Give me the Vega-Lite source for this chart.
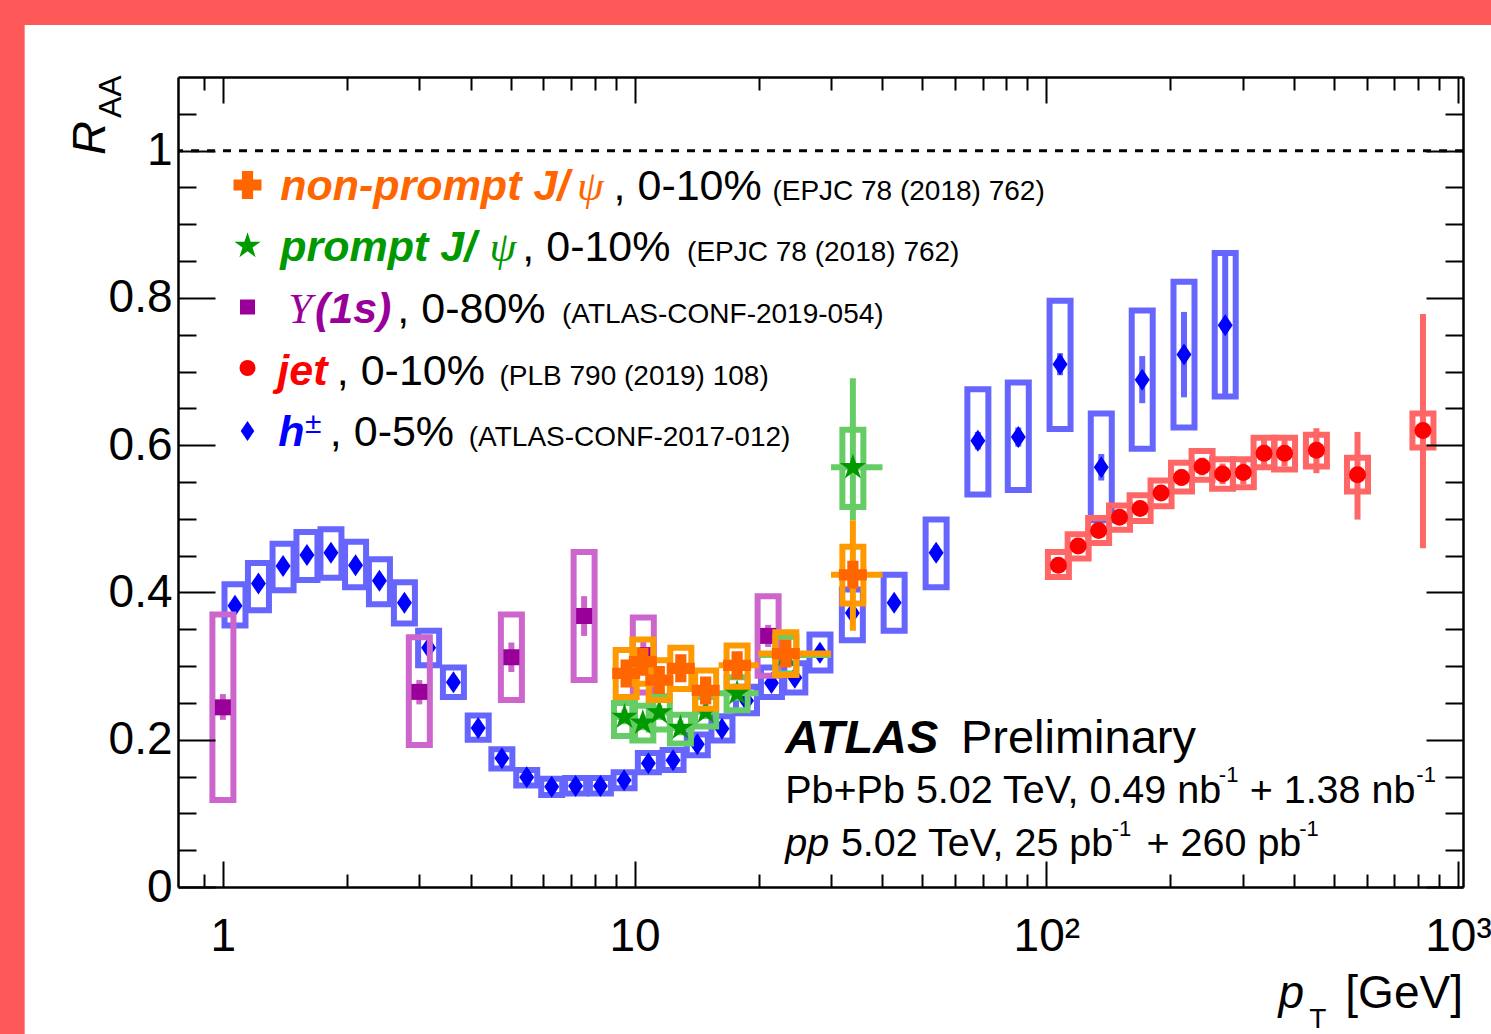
{
"$schema": "https://vega.github.io/schema/vega-lite/v6.json",
"width": 1285, "height": 810,
"autosize": {"type": "none"},
"padding": {"left": 178, "top": 77, "right": 28, "bottom": 147},
"background": "#ff5858",
"config": {"view": {"stroke": null}},
"data": {"values": [{}]},
"datasets": {
"hpm": [
{"pt":1.07,"r":0.382,"slo":0.355,"shi":0.411,"elo":0.378,"ehi":0.386},
{"pt":1.22,"r":0.412,"slo":0.376,"shi":0.440,"elo":0.408,"ehi":0.416},
{"pt":1.40,"r":0.436,"slo":0.403,"shi":0.466,"elo":0.432,"ehi":0.440},
{"pt":1.60,"r":0.451,"slo":0.417,"shi":0.482,"elo":0.447,"ehi":0.455},
{"pt":1.83,"r":0.454,"slo":0.420,"shi":0.486,"elo":0.450,"ehi":0.458},
{"pt":2.10,"r":0.437,"slo":0.407,"shi":0.469,"elo":0.433,"ehi":0.441},
{"pt":2.40,"r":0.416,"slo":0.384,"shi":0.445,"elo":0.412,"ehi":0.420},
{"pt":2.76,"r":0.386,"slo":0.358,"shi":0.414,"elo":0.382,"ehi":0.390},
{"pt":3.16,"r":0.325,"slo":0.301,"shi":0.348,"elo":0.321,"ehi":0.329},
{"pt":3.63,"r":0.278,"slo":0.258,"shi":0.298,"elo":0.274,"ehi":0.282},
{"pt":4.17,"r":0.216,"slo":0.200,"shi":0.233,"elo":0.212,"ehi":0.220},
{"pt":4.76,"r":0.175,"slo":0.161,"shi":0.187,"elo":0.171,"ehi":0.179},
{"pt":5.47,"r":0.149,"slo":0.138,"shi":0.159,"elo":0.145,"ehi":0.153},
{"pt":6.29,"r":0.136,"slo":0.125,"shi":0.147,"elo":0.132,"ehi":0.140},
{"pt":7.19,"r":0.137,"slo":0.127,"shi":0.148,"elo":0.133,"ehi":0.141},
{"pt":8.26,"r":0.137,"slo":0.127,"shi":0.148,"elo":0.133,"ehi":0.141},
{"pt":9.43,"r":0.145,"slo":0.134,"shi":0.156,"elo":0.141,"ehi":0.149},
{"pt":10.8,"r":0.168,"slo":0.156,"shi":0.182,"elo":0.164,"ehi":0.172},
{"pt":12.4,"r":0.172,"slo":0.159,"shi":0.186,"elo":0.168,"ehi":0.176},
{"pt":14.2,"r":0.194,"slo":0.179,"shi":0.207,"elo":0.190,"ehi":0.198},
{"pt":16.3,"r":0.215,"slo":0.199,"shi":0.232,"elo":0.211,"ehi":0.219},
{"pt":18.7,"r":0.253,"slo":0.236,"shi":0.272,"elo":0.248,"ehi":0.258},
{"pt":21.5,"r":0.277,"slo":0.258,"shi":0.298,"elo":0.272,"ehi":0.282},
{"pt":24.5,"r":0.284,"slo":0.264,"shi":0.304,"elo":0.279,"ehi":0.289},
{"pt":28.2,"r":0.318,"slo":0.294,"shi":0.343,"elo":0.312,"ehi":0.324},
{"pt":33.8,"r":0.372,"slo":0.335,"shi":0.404,"elo":0.365,"ehi":0.379},
{"pt":42.7,"r":0.386,"slo":0.348,"shi":0.424,"elo":0.378,"ehi":0.394},
{"pt":54.0,"r":0.454,"slo":0.407,"shi":0.499,"elo":0.444,"ehi":0.464},
{"pt":68.2,"r":0.606,"slo":0.533,"shi":0.676,"elo":0.594,"ehi":0.618},
{"pt":85.5,"r":0.611,"slo":0.539,"shi":0.685,"elo":0.598,"ehi":0.624},
{"pt":108,"r":0.710,"slo":0.622,"shi":0.796,"elo":0.695,"ehi":0.725},
{"pt":136,"r":0.570,"slo":0.498,"shi":0.643,"elo":0.552,"ehi":0.588},
{"pt":171,"r":0.689,"slo":0.595,"shi":0.783,"elo":0.657,"ehi":0.721},
{"pt":216,"r":0.723,"slo":0.624,"shi":0.822,"elo":0.665,"ehi":0.781},
{"pt":272,"r":0.763,"slo":0.666,"shi":0.861,"elo":0.668,"ehi":0.858}
],
"jet": [
{"pt":107,"r":0.437,"slo":0.421,"shi":0.455,"elo":0.429,"ehi":0.445},
{"pt":119.5,"r":0.463,"slo":0.446,"shi":0.479,"elo":0.455,"ehi":0.471},
{"pt":134,"r":0.484,"slo":0.467,"shi":0.501,"elo":0.476,"ehi":0.492},
{"pt":150.6,"r":0.502,"slo":0.485,"shi":0.518,"elo":0.494,"ehi":0.510},
{"pt":169,"r":0.514,"slo":0.497,"shi":0.532,"elo":0.505,"ehi":0.523},
{"pt":190,"r":0.535,"slo":0.517,"shi":0.552,"elo":0.525,"ehi":0.545},
{"pt":213,"r":0.556,"slo":0.537,"shi":0.576,"elo":0.545,"ehi":0.567},
{"pt":239,"r":0.571,"slo":0.553,"shi":0.592,"elo":0.559,"ehi":0.583},
{"pt":268,"r":0.561,"slo":0.541,"shi":0.581,"elo":0.547,"ehi":0.575},
{"pt":301,"r":0.563,"slo":0.543,"shi":0.581,"elo":0.547,"ehi":0.579},
{"pt":338,"r":0.589,"slo":0.570,"shi":0.610,"elo":0.571,"ehi":0.607},
{"pt":379,"r":0.589,"slo":0.567,"shi":0.610,"elo":0.571,"ehi":0.607},
{"pt":453,"r":0.593,"slo":0.571,"shi":0.614,"elo":0.562,"ehi":0.623},
{"pt":570,"r":0.560,"slo":0.537,"shi":0.583,"elo":0.499,"ehi":0.618},
{"pt":822,"r":0.620,"slo":0.597,"shi":0.643,"elo":0.460,"ehi":0.778}
],
"ups": [
{"pt":1.0,"r":0.244,"slo":0.118,"shi":0.370,"elo":0.227,"ehi":0.262},
{"pt":3.0,"r":0.265,"slo":0.193,"shi":0.339,"elo":0.248,"ehi":0.281},
{"pt":5.02,"r":0.312,"slo":0.254,"shi":0.370,"elo":0.292,"ehi":0.332},
{"pt":7.54,"r":0.368,"slo":0.281,"shi":0.455,"elo":0.341,"ehi":0.395},
{"pt":10.5,"r":0.315,"slo":0.264,"shi":0.366,"elo":0.295,"ehi":0.335},
{"pt":21.1,"r":0.341,"slo":0.287,"shi":0.395,"elo":0.326,"ehi":0.356}
],
"prompt": [
{"pt":9.45,"r":0.231,"slo":0.205,"shi":0.250,"elo":0.221,"ehi":0.241,"xlo":9,"xhi":10},
{"pt":10.47,"r":0.223,"slo":0.199,"shi":0.246,"elo":0.213,"ehi":0.233,"xlo":10,"xhi":11},
{"pt":11.48,"r":0.237,"slo":0.214,"shi":0.259,"elo":0.227,"ehi":0.247,"xlo":11,"xhi":12},
{"pt":12.92,"r":0.216,"slo":0.195,"shi":0.234,"elo":0.206,"ehi":0.226,"xlo":12,"xhi":14},
{"pt":14.88,"r":0.238,"slo":0.218,"shi":0.258,"elo":0.228,"ehi":0.248,"xlo":14,"xhi":16},
{"pt":17.74,"r":0.263,"slo":0.240,"shi":0.285,"elo":0.253,"ehi":0.273,"xlo":16,"xhi":20},
{"pt":23.3,"r":0.315,"slo":0.290,"shi":0.340,"elo":0.303,"ehi":0.327,"xlo":20,"xhi":30},
{"pt":33.9,"r":0.570,"slo":0.516,"shi":0.621,"elo":0.498,"ehi":0.691,"xlo":30,"xhi":40}
],
"nonprompt": [
{"pt":9.54,"r":0.290,"slo":0.258,"shi":0.322,"elo":0.277,"ehi":0.303,"xlo":9,"xhi":10},
{"pt":10.47,"r":0.306,"slo":0.276,"shi":0.336,"elo":0.293,"ehi":0.319,"xlo":10,"xhi":11},
{"pt":11.48,"r":0.281,"slo":0.254,"shi":0.308,"elo":0.268,"ehi":0.294,"xlo":11,"xhi":12},
{"pt":12.95,"r":0.297,"slo":0.269,"shi":0.325,"elo":0.284,"ehi":0.310,"xlo":12,"xhi":14},
{"pt":14.88,"r":0.267,"slo":0.242,"shi":0.294,"elo":0.254,"ehi":0.280,"xlo":14,"xhi":16},
{"pt":17.74,"r":0.301,"slo":0.272,"shi":0.328,"elo":0.288,"ehi":0.314,"xlo":16,"xhi":20},
{"pt":23.3,"r":0.317,"slo":0.288,"shi":0.346,"elo":0.303,"ehi":0.331,"xlo":20,"xhi":30},
{"pt":33.9,"r":0.424,"slo":0.385,"shi":0.462,"elo":0.348,"ehi":0.498,"xlo":30,"xhi":40}
]
},
"layer": [
{"mark": {"type": "rect", "color": "white"},
 "encoding": {"x": {"datum": 0.33, "type": "quantitative", "scale": {"type": "log", "domain": [0.8, 1000], "nice": false}, "axis": null},
  "x2": {"datum": 1000000}, "y": {"datum": 1.1706, "type": "quantitative", "scale": {"domain": [0, 1.1], "nice": false}, "axis": null}, "y2": {"datum": -1}}},
{"mark": {"type": "rule", "color": "black", "strokeWidth": 3, "strokeDash": [8, 8]},
 "encoding": {"y": {"datum": 1, "type": "quantitative", "scale": {"domain": [0, 1.1], "nice": false}, "axis": null}}},

{"data": {"name": "hpm"}, "mark": {"type": "bar", "filled": false, "color": "#6666ff", "strokeWidth": 6, "width": 21},
 "encoding": {"x": {"field": "pt", "type": "quantitative", "scale": {"type": "log", "domain": [0.8, 1000], "nice": false},
   "axis": {"orient": "bottom", "values": [1, 10, 100, 1000], "ticks": false, "tickSize": 0, "domain": true, "domainColor": "black", "domainWidth": 2.5, "labelFont": "Liberation Sans", "labelFontSize": 46, "labelColor": "black", "labelPadding": 27, "labelFlush": false, "labelOverlap": false, "labelBaseline": "top", "labelExpr": "datum.value < 5 ? '1' : datum.value < 50 ? '10' : datum.value < 500 ? '10²' : '10³'", "grid": false, "title": null, "zindex": 1}},
  "y": {"field": "slo", "type": "quantitative", "scale": {"domain": [0, 1.1], "nice": false},
   "axis": {"orient": "left", "values": [0, 0.2, 0.4, 0.6, 0.8, 1], "ticks": false, "tickSize": 0, "domain": true, "domainColor": "black", "domainWidth": 2.5, "labelFont": "Liberation Sans", "labelFontSize": 46, "labelColor": "black", "labelPadding": 6, "labelOverlap": false, "labelExpr": "datum.value == 0 ? '0' : datum.value == 1 ? '1' : format(datum.value, '.1f')", "grid": false, "title": null, "zindex": 1}},
  "y2": {"field": "shi"}}},
{"data": {"name": "hpm"}, "mark": {"type": "rule", "color": "#6666ff", "strokeWidth": 6},
 "encoding": {"x": {"field": "pt", "type": "quantitative", "scale": {"type": "log", "domain": [0.8, 1000], "nice": false},
   "axis": {"orient": "bottom", "values": [1, 10, 100, 1000], "tickSize": -26, "tickWidth": 2, "tickColor": "black", "domain": false, "labels": false, "grid": false, "title": null, "zindex": 1}},
  "y": {"field": "elo", "type": "quantitative", "scale": {"domain": [0, 1.1], "nice": false},
   "axis": {"orient": "left", "values": [0, 0.2, 0.4, 0.6, 0.8, 1], "tickSize": -37, "tickWidth": 2, "tickColor": "black", "domain": false, "labels": false, "grid": false, "title": null, "zindex": 1}},
  "y2": {"field": "ehi"}}},
{"data": {"name": "hpm"}, "mark": {"type": "point", "shape": "M0,-1L0.68,0L0,1L-0.68,0Z", "filled": true, "size": 484, "color": "#0000ff", "opacity": 1},
 "encoding": {"x": {"field": "pt", "type": "quantitative", "scale": {"type": "log", "domain": [0.8, 1000], "nice": false},
   "axis": {"orient": "bottom", "values": [0.9, 2, 3, 4, 5, 6, 7, 8, 9, 20, 30, 40, 50, 60, 70, 80, 90, 200, 300, 400, 500, 600, 700, 800, 900], "tickSize": -13, "tickWidth": 2, "tickColor": "black", "domain": false, "labels": false, "grid": false, "title": null, "zindex": 1}},
  "y": {"field": "r", "type": "quantitative", "scale": {"domain": [0, 1.1], "nice": false},
   "axis": {"orient": "left", "values": [0.05, 0.1, 0.15, 0.25, 0.3, 0.35, 0.45, 0.5, 0.55, 0.65, 0.7, 0.75, 0.85, 0.9, 0.95, 1.05], "tickSize": -18, "tickWidth": 2, "tickColor": "black", "domain": false, "labels": false, "grid": false, "title": null, "zindex": 1}}}},

{"data": {"name": "jet"}, "mark": {"type": "bar", "filled": false, "color": "#ff6666", "strokeWidth": 6, "width": 21},
 "encoding": {"x": {"field": "pt", "type": "quantitative", "scale": {"type": "log", "domain": [0.8, 1000], "nice": false},
   "axis": {"orient": "top", "values": [1, 10, 100, 1000], "tickSize": -26, "tickWidth": 2, "tickColor": "black", "domain": true, "domainColor": "black", "domainWidth": 2.5, "labels": false, "grid": false, "title": null, "zindex": 1}},
  "y": {"field": "slo", "type": "quantitative", "scale": {"domain": [0, 1.1], "nice": false},
   "axis": {"orient": "right", "values": [0, 0.2, 0.4, 0.6, 0.8, 1], "tickSize": -37, "tickWidth": 2, "tickColor": "black", "domain": true, "domainColor": "black", "domainWidth": 2.5, "labels": false, "grid": false, "title": null, "zindex": 1}},
  "y2": {"field": "shi"}}},
{"data": {"name": "jet"}, "mark": {"type": "rule", "color": "#ff6666", "strokeWidth": 6},
 "encoding": {"x": {"field": "pt", "type": "quantitative", "scale": {"type": "log", "domain": [0.8, 1000], "nice": false},
   "axis": {"orient": "top", "values": [0.9, 2, 3, 4, 5, 6, 7, 8, 9, 20, 30, 40, 50, 60, 70, 80, 90, 200, 300, 400, 500, 600, 700, 800, 900], "tickSize": -13, "tickWidth": 2, "tickColor": "black", "domain": false, "labels": false, "grid": false, "title": null, "zindex": 1}},
  "y": {"field": "elo", "type": "quantitative", "scale": {"domain": [0, 1.1], "nice": false},
   "axis": {"orient": "right", "values": [0.05, 0.1, 0.15, 0.25, 0.3, 0.35, 0.45, 0.5, 0.55, 0.65, 0.7, 0.75, 0.85, 0.9, 0.95, 1.05], "tickSize": -18, "tickWidth": 2, "tickColor": "black", "domain": false, "labels": false, "grid": false, "title": null, "zindex": 1}},
  "y2": {"field": "ehi"}}},
{"data": {"name": "jet"}, "mark": {"type": "point", "shape": "circle", "filled": true, "size": 289, "color": "#ff0000", "opacity": 1},
 "encoding": {"x": {"field": "pt", "type": "quantitative", "scale": {"type": "log", "domain": [0.8, 1000], "nice": false}, "axis": null},
  "y": {"field": "r", "type": "quantitative", "scale": {"domain": [0, 1.1], "nice": false}, "axis": null}}},

{"data": {"name": "ups"}, "mark": {"type": "bar", "filled": false, "color": "#cc66cc", "strokeWidth": 6, "width": 21},
 "encoding": {"x": {"field": "pt", "type": "quantitative", "scale": {"type": "log", "domain": [0.8, 1000], "nice": false}, "axis": null},
  "y": {"field": "slo", "type": "quantitative", "scale": {"domain": [0, 1.1], "nice": false}, "axis": null}, "y2": {"field": "shi"}}},
{"data": {"name": "ups"}, "mark": {"type": "rule", "color": "#cc66cc", "strokeWidth": 6},
 "encoding": {"x": {"field": "pt", "type": "quantitative", "scale": {"type": "log", "domain": [0.8, 1000], "nice": false}, "axis": null},
  "y": {"field": "elo", "type": "quantitative", "scale": {"domain": [0, 1.1], "nice": false}, "axis": null}, "y2": {"field": "ehi"}}},
{"data": {"name": "ups"}, "mark": {"type": "point", "shape": "square", "filled": true, "size": 256, "color": "#990099", "opacity": 1},
 "encoding": {"x": {"field": "pt", "type": "quantitative", "scale": {"type": "log", "domain": [0.8, 1000], "nice": false}, "axis": null},
  "y": {"field": "r", "type": "quantitative", "scale": {"domain": [0, 1.1], "nice": false}, "axis": null}}},

{"data": {"name": "prompt"}, "mark": {"type": "bar", "filled": false, "color": "#66cc66", "strokeWidth": 6, "width": 21},
 "encoding": {"x": {"field": "pt", "type": "quantitative", "scale": {"type": "log", "domain": [0.8, 1000], "nice": false}, "axis": null},
  "y": {"field": "slo", "type": "quantitative", "scale": {"domain": [0, 1.1], "nice": false}, "axis": null}, "y2": {"field": "shi"}}},
{"data": {"name": "prompt"}, "mark": {"type": "rule", "color": "#66cc66", "strokeWidth": 6},
 "encoding": {"x": {"field": "pt", "type": "quantitative", "scale": {"type": "log", "domain": [0.8, 1000], "nice": false}, "axis": null},
  "y": {"field": "elo", "type": "quantitative", "scale": {"domain": [0, 1.1], "nice": false}, "axis": null}, "y2": {"field": "ehi"}}},
{"data": {"name": "prompt"}, "mark": {"type": "rule", "color": "#66cc66", "strokeWidth": 6},
 "encoding": {"x": {"field": "xlo", "type": "quantitative", "scale": {"type": "log", "domain": [0.8, 1000], "nice": false}, "axis": null}, "x2": {"field": "xhi"},
  "y": {"field": "r", "type": "quantitative", "scale": {"domain": [0, 1.1], "nice": false}, "axis": null}}},
{"data": {"name": "prompt"}, "mark": {"type": "point", "shape": "M0,-1L0.2245,-0.309L0.9511,-0.309L0.3633,0.118L0.5878,0.809L0,0.382L-0.5878,0.809L-0.3633,0.118L-0.9511,-0.309L-0.2245,-0.309Z", "filled": true, "size": 760, "color": "#009900", "opacity": 1},
 "encoding": {"x": {"field": "pt", "type": "quantitative", "scale": {"type": "log", "domain": [0.8, 1000], "nice": false}, "axis": null},
  "y": {"field": "r", "type": "quantitative", "scale": {"domain": [0, 1.1], "nice": false}, "axis": null}}},

{"data": {"name": "nonprompt"}, "mark": {"type": "bar", "filled": false, "color": "#ff9900", "strokeWidth": 6, "width": 21},
 "encoding": {"x": {"field": "pt", "type": "quantitative", "scale": {"type": "log", "domain": [0.8, 1000], "nice": false}, "axis": null},
  "y": {"field": "slo", "type": "quantitative", "scale": {"domain": [0, 1.1], "nice": false}, "axis": null}, "y2": {"field": "shi"}}},
{"data": {"name": "nonprompt"}, "mark": {"type": "rule", "color": "#ff9900", "strokeWidth": 6},
 "encoding": {"x": {"field": "pt", "type": "quantitative", "scale": {"type": "log", "domain": [0.8, 1000], "nice": false}, "axis": null},
  "y": {"field": "elo", "type": "quantitative", "scale": {"domain": [0, 1.1], "nice": false}, "axis": null}, "y2": {"field": "ehi"}}},
{"data": {"name": "nonprompt"}, "mark": {"type": "rule", "color": "#ff9900", "strokeWidth": 6},
 "encoding": {"x": {"field": "xlo", "type": "quantitative", "scale": {"type": "log", "domain": [0.8, 1000], "nice": false}, "axis": null}, "x2": {"field": "xhi"},
  "y": {"field": "r", "type": "quantitative", "scale": {"domain": [0, 1.1], "nice": false}, "axis": null}}},
{"data": {"name": "nonprompt"}, "mark": {"type": "point", "shape": "cross", "filled": true, "size": 784, "color": "#ff6600", "opacity": 1},
 "encoding": {"x": {"field": "pt", "type": "quantitative", "scale": {"type": "log", "domain": [0.8, 1000], "nice": false}, "axis": null},
  "y": {"field": "r", "type": "quantitative", "scale": {"domain": [0, 1.1], "nice": false}, "axis": null}}},

{"mark": {"type": "point", "shape": "cross", "filled": true, "size": 784, "color": "#ff6600", "opacity": 1},
 "encoding": {"x": {"datum": 1.1476, "type": "quantitative", "scale": {"type": "log", "domain": [0.8, 1000], "nice": false}, "axis": null}, "y": {"datum": 0.95333, "type": "quantitative", "scale": {"domain": [0, 1.1], "nice": false}, "axis": null}}},
{"mark": {"type": "point", "shape": "M0,-1L0.2245,-0.309L0.9511,-0.309L0.3633,0.118L0.5878,0.809L0,0.382L-0.5878,0.809L-0.3633,0.118L-0.9511,-0.309L-0.2245,-0.309Z", "filled": true, "size": 760, "color": "#009900", "opacity": 1},
 "encoding": {"x": {"datum": 1.1476, "type": "quantitative", "scale": {"type": "log", "domain": [0.8, 1000], "nice": false}, "axis": null}, "y": {"datum": 0.8705, "type": "quantitative", "scale": {"domain": [0, 1.1], "nice": false}, "axis": null}}},
{"mark": {"type": "point", "shape": "square", "filled": true, "size": 225, "color": "#990099", "opacity": 1},
 "encoding": {"x": {"datum": 1.1476, "type": "quantitative", "scale": {"type": "log", "domain": [0.8, 1000], "nice": false}, "axis": null}, "y": {"datum": 0.78765, "type": "quantitative", "scale": {"domain": [0, 1.1], "nice": false}, "axis": null}}},
{"mark": {"type": "point", "shape": "circle", "filled": true, "size": 256, "color": "#ff0000", "opacity": 1},
 "encoding": {"x": {"datum": 1.1476, "type": "quantitative", "scale": {"type": "log", "domain": [0.8, 1000], "nice": false}, "axis": null}, "y": {"datum": 0.70482, "type": "quantitative", "scale": {"domain": [0, 1.1], "nice": false}, "axis": null}}},
{"mark": {"type": "point", "shape": "M0,-1L0.68,0L0,1L-0.68,0Z", "filled": true, "size": 400, "color": "#0000ff", "opacity": 1},
 "encoding": {"x": {"datum": 1.1476, "type": "quantitative", "scale": {"type": "log", "domain": [0.8, 1000], "nice": false}, "axis": null}, "y": {"datum": 0.61926, "type": "quantitative", "scale": {"domain": [0, 1.1], "nice": false}, "axis": null}}},

{"mark": {"type": "text", "text": "non-prompt J/", "font": "Liberation Sans", "fontSize": 43, "fontStyle": "italic", "fontWeight": "bold", "color": "#ff6600", "align": "left", "baseline": "alphabetic"},
 "encoding": {"x": {"datum": 1.3782, "type": "quantitative", "scale": {"type": "log", "domain": [0.8, 1000], "nice": false}, "axis": null}, "y": {"datum": 0.93296, "type": "quantitative", "scale": {"domain": [0, 1.1], "nice": false}, "axis": null}}},
{"mark": {"type": "text", "text": "ψ", "font": "Liberation Serif", "fontSize": 43, "fontStyle": "italic", "color": "#ff6600", "align": "left", "baseline": "alphabetic"},
 "encoding": {"x": {"datum": 7.243, "type": "quantitative", "scale": {"type": "log", "domain": [0.8, 1000], "nice": false}, "axis": null}, "y": {"datum": 0.93296, "type": "quantitative", "scale": {"domain": [0, 1.1], "nice": false}, "axis": null}}},
{"mark": {"type": "text", "text": ", 0-10%", "font": "Liberation Sans", "fontSize": 43, "color": "black", "align": "left", "baseline": "alphabetic"},
 "encoding": {"x": {"datum": 8.891, "type": "quantitative", "scale": {"type": "log", "domain": [0.8, 1000], "nice": false}, "axis": null}, "y": {"datum": 0.93296, "type": "quantitative", "scale": {"domain": [0, 1.1], "nice": false}, "axis": null}}},
{"mark": {"type": "text", "text": "(EPJC 78 (2018) 762)", "font": "Liberation Sans", "fontSize": 28, "color": "black", "align": "left", "baseline": "alphabetic"},
 "encoding": {"x": {"datum": 21.61, "type": "quantitative", "scale": {"type": "log", "domain": [0.8, 1000], "nice": false}, "axis": null}, "y": {"datum": 0.93296, "type": "quantitative", "scale": {"domain": [0, 1.1], "nice": false}, "axis": null}}},

{"mark": {"type": "text", "text": "prompt J/", "font": "Liberation Sans", "fontSize": 43, "fontStyle": "italic", "fontWeight": "bold", "color": "#009900", "align": "left", "baseline": "alphabetic"},
 "encoding": {"x": {"datum": 1.3782, "type": "quantitative", "scale": {"type": "log", "domain": [0.8, 1000], "nice": false}, "axis": null}, "y": {"datum": 0.84945, "type": "quantitative", "scale": {"domain": [0, 1.1], "nice": false}, "axis": null}}},
{"mark": {"type": "text", "text": "ψ", "font": "Liberation Serif", "fontSize": 43, "fontStyle": "italic", "color": "#009900", "align": "left", "baseline": "alphabetic"},
 "encoding": {"x": {"datum": 4.444, "type": "quantitative", "scale": {"type": "log", "domain": [0.8, 1000], "nice": false}, "axis": null}, "y": {"datum": 0.84945, "type": "quantitative", "scale": {"domain": [0, 1.1], "nice": false}, "axis": null}}},
{"mark": {"type": "text", "text": ", 0-10%", "font": "Liberation Sans", "fontSize": 43, "color": "black", "align": "left", "baseline": "alphabetic"},
 "encoding": {"x": {"datum": 5.337, "type": "quantitative", "scale": {"type": "log", "domain": [0.8, 1000], "nice": false}, "axis": null}, "y": {"datum": 0.84945, "type": "quantitative", "scale": {"domain": [0, 1.1], "nice": false}, "axis": null}}},
{"mark": {"type": "text", "text": "(EPJC 78 (2018) 762)", "font": "Liberation Sans", "fontSize": 28, "color": "black", "align": "left", "baseline": "alphabetic"},
 "encoding": {"x": {"datum": 13.41, "type": "quantitative", "scale": {"type": "log", "domain": [0.8, 1000], "nice": false}, "axis": null}, "y": {"datum": 0.84945, "type": "quantitative", "scale": {"domain": [0, 1.1], "nice": false}, "axis": null}}},

{"mark": {"type": "text", "text": "Υ", "font": "Liberation Serif", "fontSize": 43, "fontStyle": "italic", "color": "#990099", "align": "left", "baseline": "alphabetic"},
 "encoding": {"x": {"datum": 1.4407, "type": "quantitative", "scale": {"type": "log", "domain": [0.8, 1000], "nice": false}, "axis": null}, "y": {"datum": 0.76593, "type": "quantitative", "scale": {"domain": [0, 1.1], "nice": false}, "axis": null}}},
{"mark": {"type": "text", "text": "(1s)", "font": "Liberation Sans", "fontSize": 43, "fontStyle": "italic", "fontWeight": "bold", "color": "#990099", "align": "left", "baseline": "alphabetic"},
 "encoding": {"x": {"datum": 1.6735, "type": "quantitative", "scale": {"type": "log", "domain": [0.8, 1000], "nice": false}, "axis": null}, "y": {"datum": 0.76593, "type": "quantitative", "scale": {"domain": [0, 1.1], "nice": false}, "axis": null}}},
{"mark": {"type": "text", "text": ", 0-80%", "font": "Liberation Sans", "fontSize": 43, "color": "black", "align": "left", "baseline": "alphabetic"},
 "encoding": {"x": {"datum": 2.6528, "type": "quantitative", "scale": {"type": "log", "domain": [0.8, 1000], "nice": false}, "axis": null}, "y": {"datum": 0.76593, "type": "quantitative", "scale": {"domain": [0, 1.1], "nice": false}, "axis": null}}},
{"mark": {"type": "text", "text": "(ATLAS-CONF-2019-054)", "font": "Liberation Sans", "fontSize": 28, "color": "black", "align": "left", "baseline": "alphabetic"},
 "encoding": {"x": {"datum": 6.664, "type": "quantitative", "scale": {"type": "log", "domain": [0.8, 1000], "nice": false}, "axis": null}, "y": {"datum": 0.76593, "type": "quantitative", "scale": {"domain": [0, 1.1], "nice": false}, "axis": null}}},

{"mark": {"type": "text", "text": "jet", "font": "Liberation Sans", "fontSize": 43, "fontStyle": "italic", "fontWeight": "bold", "color": "#ff0000", "align": "left", "baseline": "alphabetic"},
 "encoding": {"x": {"datum": 1.3555, "type": "quantitative", "scale": {"type": "log", "domain": [0.8, 1000], "nice": false}, "axis": null}, "y": {"datum": 0.68173, "type": "quantitative", "scale": {"domain": [0, 1.1], "nice": false}, "axis": null}}},
{"mark": {"type": "text", "text": ", 0-10%", "font": "Liberation Sans", "fontSize": 43, "color": "black", "align": "left", "baseline": "alphabetic"},
 "encoding": {"x": {"datum": 1.8905, "type": "quantitative", "scale": {"type": "log", "domain": [0.8, 1000], "nice": false}, "axis": null}, "y": {"datum": 0.68173, "type": "quantitative", "scale": {"domain": [0, 1.1], "nice": false}, "axis": null}}},
{"mark": {"type": "text", "text": "(PLB 790 (2019) 108)", "font": "Liberation Sans", "fontSize": 28, "color": "black", "align": "left", "baseline": "alphabetic"},
 "encoding": {"x": {"datum": 4.697, "type": "quantitative", "scale": {"type": "log", "domain": [0.8, 1000], "nice": false}, "axis": null}, "y": {"datum": 0.68173, "type": "quantitative", "scale": {"domain": [0, 1.1], "nice": false}, "axis": null}}},

{"mark": {"type": "text", "text": "h", "font": "Liberation Sans", "fontSize": 43, "fontStyle": "italic", "fontWeight": "bold", "color": "#0000ff", "align": "left", "baseline": "alphabetic"},
 "encoding": {"x": {"datum": 1.3631, "type": "quantitative", "scale": {"type": "log", "domain": [0.8, 1000], "nice": false}, "axis": null}, "y": {"datum": 0.59821, "type": "quantitative", "scale": {"domain": [0, 1.1], "nice": false}, "axis": null}}},
{"mark": {"type": "text", "text": "±", "font": "Liberation Sans", "fontSize": 30, "color": "#0000ff", "align": "left", "baseline": "alphabetic"},
 "encoding": {"x": {"datum": 1.5832, "type": "quantitative", "scale": {"type": "log", "domain": [0.8, 1000], "nice": false}, "axis": null}, "y": {"datum": 0.6165, "type": "quantitative", "scale": {"domain": [0, 1.1], "nice": false}, "axis": null}}},
{"mark": {"type": "text", "text": ", 0-5%", "font": "Liberation Sans", "fontSize": 43, "color": "black", "align": "left", "baseline": "alphabetic"},
 "encoding": {"x": {"datum": 1.8185, "type": "quantitative", "scale": {"type": "log", "domain": [0.8, 1000], "nice": false}, "axis": null}, "y": {"datum": 0.59821, "type": "quantitative", "scale": {"domain": [0, 1.1], "nice": false}, "axis": null}}},
{"mark": {"type": "text", "text": "(ATLAS-CONF-2017-012)", "font": "Liberation Sans", "fontSize": 28, "color": "black", "align": "left", "baseline": "alphabetic"},
 "encoding": {"x": {"datum": 3.956, "type": "quantitative", "scale": {"type": "log", "domain": [0.8, 1000], "nice": false}, "axis": null}, "y": {"datum": 0.59821, "type": "quantitative", "scale": {"domain": [0, 1.1], "nice": false}, "axis": null}}},

{"mark": {"type": "text", "text": "ATLAS", "font": "Liberation Sans", "fontSize": 47, "fontStyle": "italic", "fontWeight": "bold", "color": "black", "align": "left", "baseline": "alphabetic"},
 "encoding": {"x": {"datum": 23.22, "type": "quantitative", "scale": {"type": "log", "domain": [0.8, 1000], "nice": false}, "axis": null}, "y": {"datum": 0.18198, "type": "quantitative", "scale": {"domain": [0, 1.1], "nice": false}, "axis": null}}},
{"mark": {"type": "text", "text": "Preliminary", "font": "Liberation Sans", "fontSize": 47, "color": "black", "align": "left", "baseline": "alphabetic"},
 "encoding": {"x": {"datum": 62.02, "type": "quantitative", "scale": {"type": "log", "domain": [0.8, 1000], "nice": false}, "axis": null}, "y": {"datum": 0.18198, "type": "quantitative", "scale": {"domain": [0, 1.1], "nice": false}, "axis": null}}},
{"mark": {"type": "text", "text": "Pb+Pb 5.02 TeV, 0.49 nb", "font": "Liberation Sans", "fontSize": 39.5, "color": "black", "align": "left", "baseline": "alphabetic"},
 "encoding": {"x": {"datum": 23.22, "type": "quantitative", "scale": {"type": "log", "domain": [0.8, 1000], "nice": false}, "axis": null}, "y": {"datum": 0.11408, "type": "quantitative", "scale": {"domain": [0, 1.1], "nice": false}, "axis": null}}},
{"mark": {"type": "text", "text": "-1", "font": "Liberation Sans", "fontSize": 22, "color": "black", "align": "left", "baseline": "alphabetic"},
 "encoding": {"x": {"datum": 262.5, "type": "quantitative", "scale": {"type": "log", "domain": [0.8, 1000], "nice": false}, "axis": null}, "y": {"datum": 0.1426, "type": "quantitative", "scale": {"domain": [0, 1.1], "nice": false}, "axis": null}}},
{"mark": {"type": "text", "text": "+ 1.38 nb", "font": "Liberation Sans", "fontSize": 39.5, "color": "black", "align": "left", "baseline": "alphabetic"},
 "encoding": {"x": {"datum": 311.8, "type": "quantitative", "scale": {"type": "log", "domain": [0.8, 1000], "nice": false}, "axis": null}, "y": {"datum": 0.11408, "type": "quantitative", "scale": {"domain": [0, 1.1], "nice": false}, "axis": null}}},
{"mark": {"type": "text", "text": "-1", "font": "Liberation Sans", "fontSize": 22, "color": "black", "align": "left", "baseline": "alphabetic"},
 "encoding": {"x": {"datum": 792.0, "type": "quantitative", "scale": {"type": "log", "domain": [0.8, 1000], "nice": false}, "axis": null}, "y": {"datum": 0.1426, "type": "quantitative", "scale": {"domain": [0, 1.1], "nice": false}, "axis": null}}},
{"mark": {"type": "text", "text": "pp", "font": "Liberation Sans", "fontSize": 39.5, "fontStyle": "italic", "color": "black", "align": "left", "baseline": "alphabetic"},
 "encoding": {"x": {"datum": 23.22, "type": "quantitative", "scale": {"type": "log", "domain": [0.8, 1000], "nice": false}, "axis": null}, "y": {"datum": 0.0421, "type": "quantitative", "scale": {"domain": [0, 1.1], "nice": false}, "axis": null}}},
{"mark": {"type": "text", "text": "5.02 TeV, 25 pb", "font": "Liberation Sans", "fontSize": 39.5, "color": "black", "align": "left", "baseline": "alphabetic"},
 "encoding": {"x": {"datum": 31.70, "type": "quantitative", "scale": {"type": "log", "domain": [0.8, 1000], "nice": false}, "axis": null}, "y": {"datum": 0.0421, "type": "quantitative", "scale": {"domain": [0, 1.1], "nice": false}, "axis": null}}},
{"mark": {"type": "text", "text": "-1", "font": "Liberation Sans", "fontSize": 22, "color": "black", "align": "left", "baseline": "alphabetic"},
 "encoding": {"x": {"datum": 144.2, "type": "quantitative", "scale": {"type": "log", "domain": [0.8, 1000], "nice": false}, "axis": null}, "y": {"datum": 0.06926, "type": "quantitative", "scale": {"domain": [0, 1.1], "nice": false}, "axis": null}}},
{"mark": {"type": "text", "text": "+ 260 pb", "font": "Liberation Sans", "fontSize": 39.5, "color": "black", "align": "left", "baseline": "alphabetic"},
 "encoding": {"x": {"datum": 175.1, "type": "quantitative", "scale": {"type": "log", "domain": [0.8, 1000], "nice": false}, "axis": null}, "y": {"datum": 0.0421, "type": "quantitative", "scale": {"domain": [0, 1.1], "nice": false}, "axis": null}}},
{"mark": {"type": "text", "text": "-1", "font": "Liberation Sans", "fontSize": 22, "color": "black", "align": "left", "baseline": "alphabetic"},
 "encoding": {"x": {"datum": 411.6, "type": "quantitative", "scale": {"type": "log", "domain": [0.8, 1000], "nice": false}, "axis": null}, "y": {"datum": 0.06926, "type": "quantitative", "scale": {"domain": [0, 1.1], "nice": false}, "axis": null}}},

{"mark": {"type": "text", "text": "R", "font": "Liberation Sans", "fontSize": 47, "fontStyle": "italic", "color": "black", "align": "left", "baseline": "alphabetic", "angle": 270},
 "encoding": {"x": {"datum": 0.5161, "type": "quantitative", "scale": {"type": "log", "domain": [0.8, 1000], "nice": false}, "axis": null}, "y": {"datum": 0.99407, "type": "quantitative", "scale": {"domain": [0, 1.1], "nice": false}, "axis": null}}},
{"mark": {"type": "text", "text": "AA", "font": "Liberation Sans", "fontSize": 32, "color": "black", "align": "left", "baseline": "alphabetic", "angle": 270},
 "encoding": {"x": {"datum": 0.5671, "type": "quantitative", "scale": {"type": "log", "domain": [0.8, 1000], "nice": false}, "axis": null}, "y": {"datum": 1.04432, "type": "quantitative", "scale": {"domain": [0, 1.1], "nice": false}, "axis": null}}},
{"mark": {"type": "text", "text": "p", "font": "Liberation Sans", "fontSize": 46, "fontStyle": "italic", "color": "black", "align": "left", "baseline": "alphabetic"},
 "encoding": {"x": {"datum": 366.3, "type": "quantitative", "scale": {"type": "log", "domain": [0.8, 1000], "nice": false}, "axis": null}, "y": {"datum": -0.16432, "type": "quantitative", "scale": {"domain": [0, 1.1], "nice": false}, "axis": null}}},
{"mark": {"type": "text", "text": "T", "font": "Liberation Sans", "fontSize": 28, "color": "black", "align": "left", "baseline": "alphabetic"},
 "encoding": {"x": {"datum": 435.0, "type": "quantitative", "scale": {"type": "log", "domain": [0.8, 1000], "nice": false}, "axis": null}, "y": {"datum": -0.19148, "type": "quantitative", "scale": {"domain": [0, 1.1], "nice": false}, "axis": null}}},
{"mark": {"type": "text", "text": "[GeV]", "font": "Liberation Sans", "fontSize": 46, "color": "black", "align": "right", "baseline": "alphabetic"},
 "encoding": {"x": {"datum": 1028, "type": "quantitative", "scale": {"type": "log", "domain": [0.8, 1000], "nice": false}, "axis": null}, "y": {"datum": -0.16432, "type": "quantitative", "scale": {"domain": [0, 1.1], "nice": false}, "axis": null}}}
],
"resolve": {"axis": {"x": "independent", "y": "independent"}}
}
